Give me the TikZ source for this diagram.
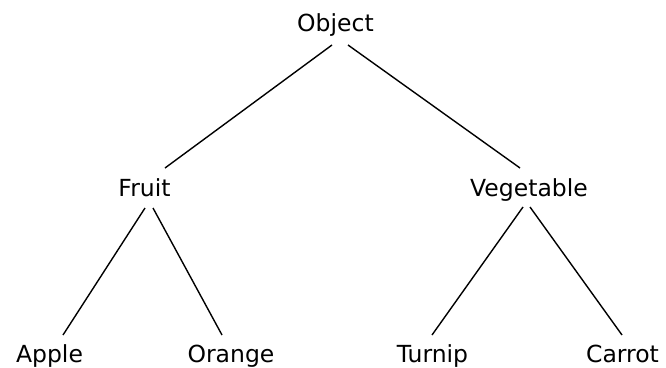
\documentclass[tikz,border=0pt]{standalone}
\usepackage{fontspec}
\setmainfont{DejaVu Sans}
\begin{document}
\begin{tikzpicture}[x=1pt,y=-1pt,
  lbl/.style={anchor=base,inner sep=0pt,font=\fontsize{23.5}{26}\selectfont},
  edge/.style={line width=1.4pt,black}]
\useasboundingbox (0,0) rectangle (666,367);
\node[lbl] (obj) at (335.5,31) {Object};
\node[lbl] (fruit) at (144.5,196) {Fruit};
\node[lbl] (veg) at (529,196.5) {Vegetable};
\node[lbl] (apple) at (49.5,362) {Apple};
\node[lbl] (orange) at (231,362) {Orange};
\node[lbl] (turnip) at (432.5,362) {Turnip};
\node[lbl] (carrot) at (622.5,362) {Carrot};
\draw[edge] ([shift={(-3.5,14)}]obj.base) -- ([shift={(20.5,-28)}]fruit.base);
\draw[edge] ([shift={(12.5,14)}]obj.base) -- ([shift={(-9,-28.5)}]veg.base);
\draw[edge] ([shift={(0.5,12)}]fruit.base) -- ([shift={(13.5,-27)}]apple.base);
\draw[edge] ([shift={(8.5,12)}]fruit.base) -- ([shift={(-9,-27)}]orange.base);
\draw[edge] ([shift={(-6,10.5)}]veg.base) -- ([shift={(-0.5,-27)}]turnip.base);
\draw[edge] ([shift={(1,10.5)}]veg.base) -- ([shift={(-0.5,-27)}]carrot.base);
\end{tikzpicture}
\end{document}
